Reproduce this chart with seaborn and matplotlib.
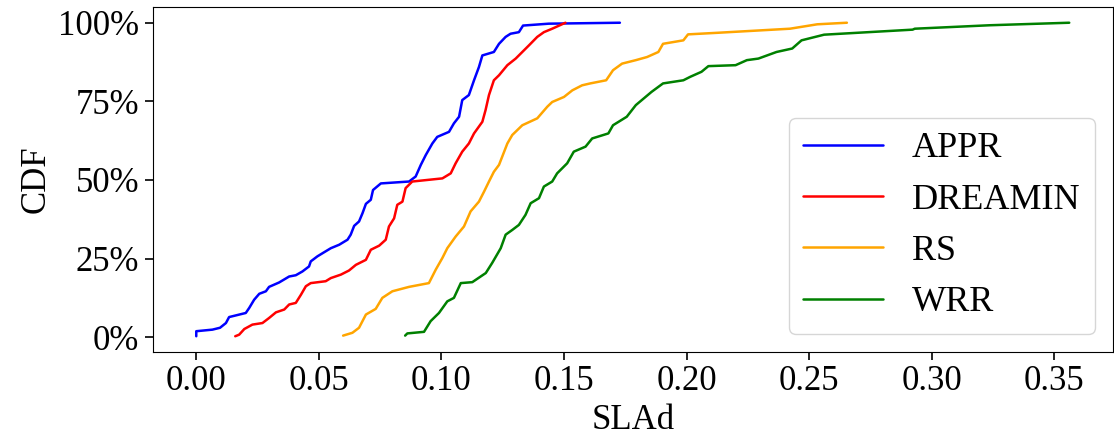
import numpy as np
import pandas as pd
import matplotlib
matplotlib.use("Agg")
import matplotlib.pyplot as plt
from matplotlib.ticker import PercentFormatter
import seaborn as sns

# SLAd values (x) and CDF level (y)
appr_x = [0.0, 0.0, 0.0066, 0.0097, 0.0121, 0.0134, 0.0202, 0.0216, 0.0236, 0.0257, 0.0284,
          0.0297, 0.0338, 0.0379, 0.0406, 0.0433, 0.0460, 0.0467, 0.0494, 0.0515, 0.0549,
          0.0583, 0.0617, 0.0630, 0.0644, 0.0664, 0.0678, 0.0692, 0.0712, 0.0721, 0.0753,
          0.0868, 0.0895, 0.0916, 0.0936, 0.0963, 0.0983, 0.1031, 0.1051, 0.1072, 0.1085,
          0.1112, 0.1133, 0.1153, 0.1167, 0.1214, 0.1235, 0.1262, 0.1282, 0.1316, 0.1333,
          0.1438, 0.1728]
appr_y = [0.003, 0.019, 0.024, 0.030, 0.045, 0.064, 0.077, 0.093, 0.119, 0.138, 0.146,
          0.160, 0.174, 0.193, 0.197, 0.209, 0.225, 0.241, 0.257, 0.267, 0.283,
          0.294, 0.310, 0.326, 0.354, 0.368, 0.394, 0.424, 0.437, 0.468, 0.489,
          0.495, 0.511, 0.548, 0.579, 0.616, 0.637, 0.653, 0.680, 0.701, 0.754,
          0.770, 0.817, 0.859, 0.896, 0.907, 0.933, 0.955, 0.965, 0.970, 0.991,
          0.997, 1.0]

dreamin_x = [0.0159, 0.0175, 0.0196, 0.0229, 0.0270, 0.0297, 0.0325, 0.0359, 0.0379, 0.0406,
             0.0427, 0.0447, 0.0467, 0.0528, 0.0549, 0.0590, 0.0623, 0.0651, 0.0692, 0.0712,
             0.0746, 0.0773, 0.0786, 0.0807, 0.0820, 0.0841, 0.0854, 0.0881, 0.1004, 0.1038,
             0.1058, 0.1085, 0.1112, 0.1133, 0.1167, 0.1180, 0.1194, 0.1214, 0.1235, 0.1269,
             0.1303, 0.1330, 0.1357, 0.1391, 0.1418, 0.1452, 0.1506]
dreamin_y = [0.003, 0.008, 0.026, 0.040, 0.045, 0.061, 0.079, 0.088, 0.104, 0.109,
             0.135, 0.162, 0.172, 0.178, 0.188, 0.199, 0.212, 0.230, 0.246, 0.278,
             0.291, 0.310, 0.352, 0.378, 0.421, 0.431, 0.474, 0.495, 0.505, 0.521,
             0.553, 0.590, 0.616, 0.648, 0.685, 0.722, 0.770, 0.817, 0.833, 0.865,
             0.886, 0.907, 0.928, 0.955, 0.970, 0.981, 1.0]

rs_x = [0.0599, 0.0637, 0.0664, 0.0692, 0.0732, 0.0759, 0.0800, 0.0868, 0.0949, 0.0977,
        0.1004, 0.1024, 0.1058, 0.1092, 0.1119, 0.1153, 0.1174, 0.1194, 0.1214, 0.1235,
        0.1269, 0.1289, 0.1330, 0.1391, 0.1432, 0.1452, 0.1500, 0.1534, 0.1574, 0.1607,
        0.1672, 0.1700, 0.1737, 0.1793, 0.1839, 0.1885, 0.1904, 0.1987, 0.2006, 0.2126,
        0.2422, 0.2533, 0.2654]
rs_y = [0.005, 0.014, 0.030, 0.072, 0.090, 0.125, 0.146, 0.160, 0.172, 0.215,
        0.252, 0.283, 0.320, 0.352, 0.400, 0.431, 0.463, 0.495, 0.526, 0.548,
        0.616, 0.643, 0.674, 0.696, 0.733, 0.748, 0.764, 0.785, 0.801, 0.807,
        0.817, 0.849, 0.870, 0.881, 0.891, 0.907, 0.933, 0.944, 0.963, 0.968,
        0.981, 0.995, 1.0]

wrr_x = [0.0852, 0.0861, 0.0929, 0.0956, 0.0990, 0.1024, 0.1051, 0.1079, 0.1126, 0.1181,
         0.1207, 0.1242, 0.1262, 0.1289, 0.1316, 0.1343, 0.1364, 0.1398, 0.1418, 0.1452,
         0.1472, 0.1513, 0.1540, 0.1588, 0.1615, 0.1681, 0.1700, 0.1756, 0.1793, 0.1857,
         0.1904, 0.1987, 0.2015, 0.2061, 0.2089, 0.2200, 0.2246, 0.2293, 0.2367, 0.2431,
         0.2469, 0.2561, 0.2922, 0.2931, 0.3237, 0.3561]
wrr_y = [0.005, 0.012, 0.017, 0.051, 0.077, 0.114, 0.125, 0.172, 0.175, 0.204,
         0.236, 0.283, 0.326, 0.341, 0.357, 0.389, 0.426, 0.442, 0.479, 0.495,
         0.521, 0.553, 0.590, 0.606, 0.632, 0.648, 0.674, 0.701, 0.738, 0.780,
         0.807, 0.817, 0.828, 0.844, 0.862, 0.865, 0.881, 0.886, 0.907, 0.918,
         0.944, 0.962, 0.978, 0.981, 0.992, 1.0]

methods = ["APPR", "DREAMIN", "RS", "WRR"]
colors = ["blue", "red", "orange", "green"]

frames = []
for name, xs, ys in zip(methods, [appr_x, dreamin_x, rs_x, wrr_x],
                        [appr_y, dreamin_y, rs_y, wrr_y]):
    frames.append(pd.DataFrame({"SLAd": xs, "CDF": ys, "method": name}))
df = pd.concat(frames, ignore_index=True)

sns.set_style("ticks")
plt.rcParams["font.family"] = ["Liberation Serif", "DejaVu Serif"]
plt.rcParams["text.color"] = "black"
plt.rcParams["axes.labelcolor"] = "black"
plt.rcParams["xtick.color"] = "black"
plt.rcParams["ytick.color"] = "black"

fig, ax = plt.subplots(figsize=(11.14, 4.41), dpi=100)
sns.lineplot(data=df, x="SLAd", y="CDF", hue="method", palette=colors,
             estimator=None, sort=False, linewidth=1.8, ax=ax)

ax.yaxis.set_major_formatter(PercentFormatter(1, decimals=0))
ax.set_yticks([0, 0.25, 0.5, 0.75, 1.0])
ax.set_xticks(np.arange(0, 0.36, 0.05))
ax.tick_params(labelsize=25, length=6, width=1.2)
ax.set_xlabel("SLAd", fontsize=25)
ax.set_ylabel("CDF", fontsize=25)
for s in ax.spines.values():
    s.set_color("black")

handles, labels = ax.get_legend_handles_labels()
ax.legend(handles, labels, loc="lower right", fontsize=26, frameon=True,
          handlelength=2.2)

fig.subplots_adjust(left=0.137, right=0.999, top=0.984, bottom=0.202)
fig.savefig("out.png", dpi=100)
